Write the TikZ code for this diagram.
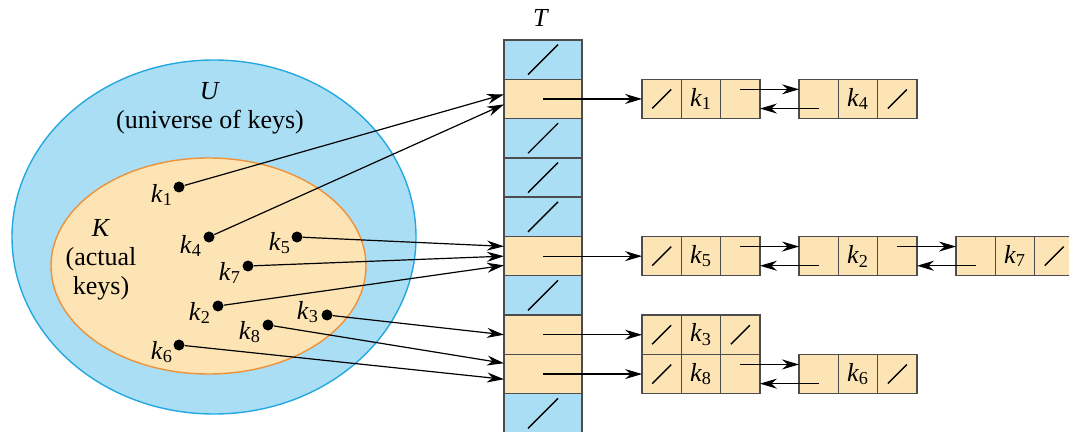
\documentclass[tikz,border=0pt]{standalone}
\usepackage{fontspec}
\setmainfont{Liberation Serif}
\usetikzlibrary{positioning,arrows.meta}

\definecolor{ublue}{RGB}{170,222,245}
\definecolor{ubluedark}{RGB}{35,168,224}
\definecolor{korange}{RGB}{253,228,180}
\definecolor{korangedark}{RGB}{238,146,58}

\newcommand{\key}[1]{\textit{k}\textsubscript{#1}}
% one list element: prev | key | next
\newcommand{\listelem}[3]{%
  \node[lcell] (#1k) at (#2) {\key{#3}};
  \node[lcell, left=0pt of #1k] (#1p) {};
  \node[lcell, right=0pt of #1k] (#1n) {};
}

\begin{document}
\begin{tikzpicture}[x=0.5pt, y=-0.5pt,
    font=\fontsize{13}{14.5}\selectfont,
    arr/.style={-{Stealth[length=8.5pt,width=5pt]}, line width=0.6pt},
    tcell/.style={draw=black!70, line width=0.7pt, minimum width=39pt,
      minimum height=19.65pt, outer sep=0pt, inner sep=0pt},
    lcell/.style={tcell, fill=korange, minimum width=19.65pt},
    keydot/.style={circle, fill=black, inner sep=0pt, minimum size=5.5pt},
    slash/.style={line width=0.7pt}]
  \useasboundingbox (0,0) rectangle (1069,432);

  % Sets
  \draw[fill=ublue, draw=ubluedark, line width=0.7pt] (214,237) ellipse [x radius=202, y radius=177];
  \draw[fill=korange, draw=korangedark, line width=0.7pt] (208.5,266) ellipse [x radius=157.5, y radius=108];
  \node[align=center] (univ) at (210,108) {\textit{U}\\(universe of keys)};
  \node[align=center] (actual) at (101,260) {\textit{K}\\(actual\\keys)};

  % Keys
  \foreach \n/\x/\y/\lx/\ly in {1/179/187/162/195, 4/209/237/191/246, 5/297/237/280/243,
      7/248/266/230/273, 2/218/306/200/313, 3/327/315/308/312, 8/268/325/250/332, 6/179/345/162/352}
  {
    \node[keydot] (d\n) at (\x,\y) {};
    \node (l\n) at (\lx,\ly) {\key{\n}};
  }

  % Table
  \node (tname) at (541,18) {\textit{T}};
  \foreach \i/\c in {0/ublue,1/korange,2/ublue,3/ublue,4/ublue,5/korange,6/ublue,7/korange,8/korange,9/ublue}
    \node[tcell, fill=\c] (t\i) at (543,59.65+39.3*\i) {};
  \foreach \i in {0,2,3,4,6,9}
    \draw[slash] (t\i.center) ++(-15,15) -- ++(30,-30);

  % Chains
  \listelem{e1}{[xshift=59.5pt]t1.east}{1}
  \listelem{e4}{[xshift=78.5pt]e1k.center}{4}
  \listelem{e5}{[xshift=59.5pt]t5.east}{5}
  \listelem{e2}{[xshift=78.5pt]e5k.center}{2}
  \listelem{e7}{[xshift=78.5pt]e2k.center}{7}
  \listelem{e3}{[xshift=59.5pt]t7.east}{3}
  \listelem{e8}{[xshift=59.5pt]t8.east}{8}
  \listelem{e6}{[xshift=78.5pt]e8k.center}{6}
  \foreach \c in {e1p,e4n,e5p,e7n,e3p,e3n,e8p,e6n}
    \draw[slash] (\c.center) ++(-9.5,9.5) -- ++(19,-19);

  % Hashing
  \draw[arr] (d1) -- ([yshift=2.3pt]t1.west);
  \draw[arr] (d4) -- ([yshift=-2.7pt]t1.west);
  \draw[arr] (d5) -- ([yshift=4.9pt]t5.west);
  \draw[arr] (d7) -- (t5.west);
  \draw[arr] (d2) -- ([yshift=-4.6pt]t5.west);
  \draw[arr] (d3) -- (t7.west);
  \draw[arr] (d8) -- ([yshift=5.4pt]t8.west);
  \draw[arr] (d6) -- ([yshift=-2.6pt]t8.west);

  % Heads
  \foreach \r/\e in {1/e1,5/e5,7/e3,8/e8}
    \draw[arr] (t\r.center) -- (\e p.west);

  % Links
  \foreach \a/\b in {e1/e4,e5/e2,e2/e7,e8/e6}
  {
    \draw[arr] ([yshift=4.8pt]\a n.center) -- ([yshift=4.8pt]\b p.west);
    \draw[arr] ([yshift=-4.8pt]\b p.center) -- ([yshift=-4.8pt]\a n.east);
  }
\end{tikzpicture}
\end{document}
